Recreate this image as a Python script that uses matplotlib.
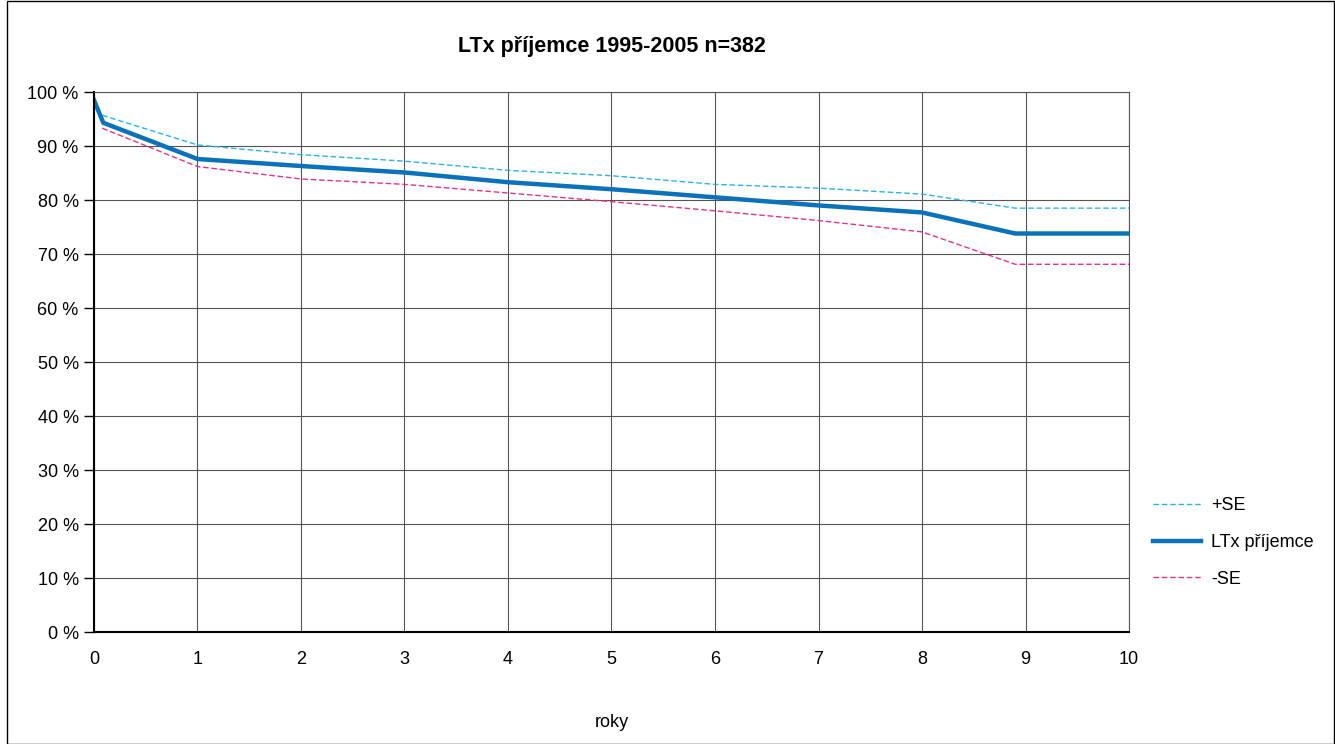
import matplotlib
matplotlib.use("Agg")
from matplotlib import pyplot as plt
from matplotlib.patches import Rectangle

plt.rcParams["font.family"] = ["Liberation Sans", "DejaVu Sans"]

# years and survival values (%)
years_main = [0, 0.09, 1, 2, 3, 4, 5, 6, 7, 8, 8.9, 10]
ltx = [98.5, 94.3, 87.6, 86.3, 85.1, 83.3, 82.0, 80.5, 79.0, 77.7, 73.8, 73.8]

years_se = [0.08, 1, 2, 3, 4, 5, 6, 7, 8, 8.9, 10]
plus_se = [95.7, 90.2, 88.4, 87.2, 85.5, 84.5, 82.9, 82.2, 81.1, 78.5, 78.5]
minus_se = [93.3, 86.2, 83.9, 82.9, 81.3, 79.7, 78.0, 76.2, 74.1, 68.1, 68.1]

x_ticks = list(range(0, 11))
y_ticks = list(range(0, 101, 10))
y_labels = [str(v) + " %" for v in y_ticks]


def main():
    fig = plt.figure(figsize=(13.35, 7.44), dpi=100)
    fig.patches.append(Rectangle((0.005, 0.0), 0.994, 0.999, transform=fig.transFigure,
                                 fill=False, edgecolor="black", linewidth=1.0))

    ax = fig.add_axes([0.0704, 0.1505, 0.7753, 0.7258])

    ax.plot(years_se, plus_se, color="#2bb3e6", linestyle=(0, (4, 2)), linewidth=1.0, label="+SE")
    ax.plot(years_main, ltx, color="#0a72bb", linewidth=3.2, label="LTx příjemce")
    ax.plot(years_se, minus_se, color="#e6318a", linestyle=(0, (4, 2)), linewidth=1.0, label="-SE")

    ax.set_xlim(0, 10)
    ax.set_ylim(0, 100)
    ax.set_xticks(x_ticks)
    ax.set_yticks(y_ticks)
    ax.set_yticklabels(y_labels)
    ax.tick_params(axis="x", length=0, pad=14, labelsize=13)
    ax.tick_params(axis="y", length=7, width=1, direction="out", pad=4, labelsize=13)

    ax.grid(True, color="#555555", linewidth=0.8)
    ax.set_axisbelow(True)
    for side in ["top", "right"]:
        ax.spines[side].set_color("#555555")
        ax.spines[side].set_linewidth(0.8)
    for side in ["left", "bottom"]:
        ax.spines[side].set_linewidth(1.5)

    ax.set_xlabel("roky", fontsize=13, labelpad=33)
    fig.text(0.4585, 0.938, "LTx příjemce 1995-2005 n=382", ha="center", va="center",
             fontsize=15.5, fontweight="bold")

    ax.legend(loc="center left", bbox_to_anchor=(1.007, 0.166), frameon=False,
              fontsize=13, handlelength=2.7, handletextpad=0.55, labelspacing=1.1)

    fig.savefig("out.png", dpi=100)


main()
